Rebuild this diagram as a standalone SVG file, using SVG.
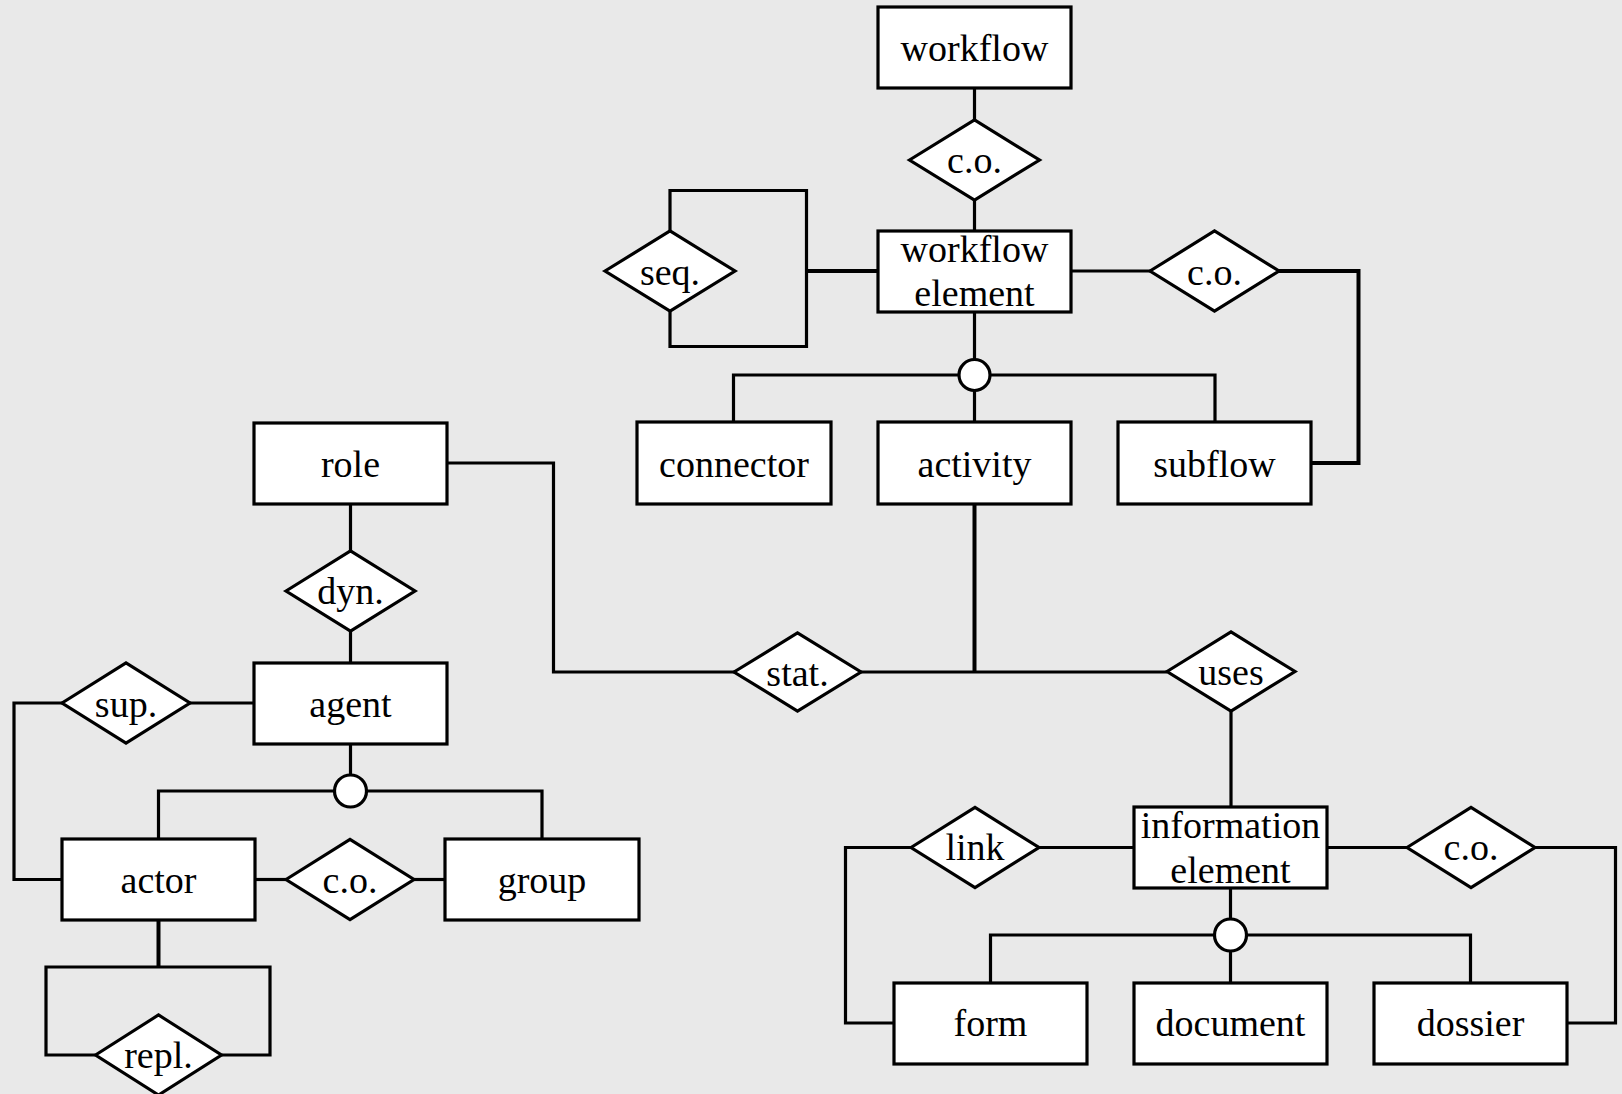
<svg xmlns="http://www.w3.org/2000/svg" width="1622" height="1094" viewBox="0 0 1622 1094">
  <style>
    .bg { fill: #e9e9e9; }
    .ent { fill: #ffffff; stroke: #000000; stroke-width: 3.2; }
    .rel { fill: #ffffff; stroke: #000000; stroke-width: 3.2; stroke-linejoin: miter; }
    .isa { fill: #ffffff; stroke: #000000; stroke-width: 3.2; }
    .ln { fill: none; stroke: #000000; stroke-width: 3.2; stroke-linejoin: miter; stroke-linecap: butt; }
    .lnb { fill: none; stroke: #000000; stroke-width: 4; stroke-linejoin: miter; stroke-linecap: butt; }
    text { font-family: "Liberation Serif", "Times New Roman", serif; font-size: 38px; fill: #000000; text-anchor: middle; }
  </style>

  <rect class="bg" x="0" y="0" width="1622" height="1094"/>

  <!-- connectors -->
  <g id="connectors">
    <!-- workflow / workflow element -->
    <path class="ln" d="M974.5 88 V120"/>
    <path class="ln" d="M974.5 200 V231"/>
    <!-- seq. self-loop on workflow element -->
    <path class="lnb" d="M878 271 H806.5"/>
    <path class="ln" d="M670 231 V190.5 H806.5 V346.5 H670 V311"/>
    <!-- c.o. between workflow element and subflow -->
    <path class="ln" d="M1071 271 H1150"/>
    <path class="lnb" d="M1279 271 H1358.5 V463 H1311"/>
    <!-- workflow element specialisation -->
    <path class="ln" d="M974.5 312 V360"/>
    <path class="ln" d="M733.5 422 V375 H1215 V422"/>
    <path class="ln" d="M974.5 390 V422"/>
    <!-- activity to stat./uses -->
    <path class="lnb" d="M974.5 504 V672"/>
    <path class="ln" d="M447 463 H553.5 V672 H734"/>
    <path class="ln" d="M861 672 H1167"/>
    <path class="ln" d="M1231 711 V807"/>
    <!-- role / agent -->
    <path class="ln" d="M350.5 504 V551"/>
    <path class="ln" d="M350.5 631 V663"/>
    <path class="ln" d="M190 703 H254"/>
    <path class="ln" d="M62 703 H14 V879.5 H62"/>
    <!-- agent specialisation -->
    <path class="ln" d="M350.5 744 V775"/>
    <path class="ln" d="M158.5 839 V791 H542 V839"/>
    <!-- actor / group -->
    <path class="ln" d="M255 879.5 H286"/>
    <path class="ln" d="M414 879.5 H445"/>
    <!-- repl. self-loop on actor -->
    <path class="lnb" d="M158.5 920 V967"/>
    <path class="ln" d="M95.5 1055 H46 V967 H270 V1055 H221.5"/>
    <!-- information element relations -->
    <path class="ln" d="M1039 847.5 H1134"/>
    <path class="ln" d="M911 847.5 H845.5 V1023 H894"/>
    <path class="ln" d="M1327 847.5 H1407"/>
    <path class="ln" d="M1535 847.5 H1615.5 V1023 H1567"/>
    <!-- information element specialisation -->
    <path class="ln" d="M1230.5 888 V919"/>
    <path class="ln" d="M990.5 983 V935 H1470.5 V983"/>
    <path class="ln" d="M1230.5 951 V983"/>
  </g>

  <!-- entities, relationships and specialisation markers -->
  <g id="workflow">
    <rect class="ent" x="878" y="7" width="193" height="81"/>
    <text x="974.5" y="61">workflow</text>
  </g>
  <g id="co-workflow">
    <polygon class="rel" points="909.5,160 974.5,120 1039.5,160 974.5,200"/>
    <text x="974.5" y="173">c.o.</text>
  </g>
  <g id="workflow-element">
    <rect class="ent" x="878" y="231" width="193" height="81"/>
    <text x="974.5" y="262">workflow</text>
    <text x="974.5" y="306">element</text>
  </g>
  <g id="seq">
    <polygon class="rel" points="605,271 670,231 735,271 670,311"/>
    <text x="670" y="285">seq.</text>
  </g>
  <g id="co-subflow">
    <polygon class="rel" points="1150,271 1214.5,231 1279,271 1214.5,311"/>
    <text x="1214.5" y="285">c.o.</text>
  </g>
  <g id="isa-workflow-element">
    <circle class="isa" cx="974.5" cy="375" r="15.5"/>
  </g>
  <g id="connector">
    <rect class="ent" x="637" y="422" width="194" height="82"/>
    <text x="734" y="477">connector</text>
  </g>
  <g id="activity">
    <rect class="ent" x="878" y="422" width="193" height="82"/>
    <text x="974.5" y="477">activity</text>
  </g>
  <g id="subflow">
    <rect class="ent" x="1118" y="422" width="193" height="82"/>
    <text x="1214.5" y="477">subflow</text>
  </g>
  <g id="role">
    <rect class="ent" x="254" y="423" width="193" height="81"/>
    <text x="350.5" y="477">role</text>
  </g>
  <g id="dyn">
    <polygon class="rel" points="286,591 350.5,551 415,591 350.5,631"/>
    <text x="350.5" y="604">dyn.</text>
  </g>
  <g id="stat">
    <polygon class="rel" points="734,672 797.5,633 861,672 797.5,711"/>
    <text x="797.5" y="686">stat.</text>
  </g>
  <g id="uses">
    <polygon class="rel" points="1167,671.5 1231,632 1295,671.5 1231,711"/>
    <text x="1231" y="685">uses</text>
  </g>
  <g id="agent">
    <rect class="ent" x="254" y="663" width="193" height="81"/>
    <text x="350.5" y="717">agent</text>
  </g>
  <g id="sup">
    <polygon class="rel" points="62,703 126,663 190,703 126,743"/>
    <text x="126" y="717">sup.</text>
  </g>
  <g id="isa-agent">
    <circle class="isa" cx="350.5" cy="791" r="16"/>
  </g>
  <g id="actor">
    <rect class="ent" x="62" y="839" width="193" height="81"/>
    <text x="158.5" y="893">actor</text>
  </g>
  <g id="co-group">
    <polygon class="rel" points="286,879.5 350,839.5 414,879.5 350,919.5"/>
    <text x="350" y="893">c.o.</text>
  </g>
  <g id="group">
    <rect class="ent" x="445" y="839" width="194" height="81"/>
    <text x="542" y="893">group</text>
  </g>
  <g id="repl">
    <polygon class="rel" points="95.5,1055 158.5,1015 221.5,1055 158.5,1095"/>
    <text x="158.5" y="1068">repl.</text>
  </g>
  <g id="information-element">
    <rect class="ent" x="1134" y="807" width="193" height="81"/>
    <text x="1230.5" y="838">information</text>
    <text x="1230.5" y="883">element</text>
  </g>
  <g id="link">
    <polygon class="rel" points="911,847.5 975,807.5 1039,847.5 975,887.5"/>
    <text x="975" y="860">link</text>
  </g>
  <g id="co-dossier">
    <polygon class="rel" points="1407,847.5 1471,807.5 1535,847.5 1471,887.5"/>
    <text x="1471" y="860">c.o.</text>
  </g>
  <g id="isa-information-element">
    <circle class="isa" cx="1230.5" cy="935" r="16"/>
  </g>
  <g id="form">
    <rect class="ent" x="894" y="983" width="193" height="81"/>
    <text x="990.5" y="1036">form</text>
  </g>
  <g id="document">
    <rect class="ent" x="1134" y="983" width="193" height="81"/>
    <text x="1230.5" y="1036">document</text>
  </g>
  <g id="dossier">
    <rect class="ent" x="1374" y="983" width="193" height="81"/>
    <text x="1470.5" y="1036">dossier</text>
  </g>
</svg>
